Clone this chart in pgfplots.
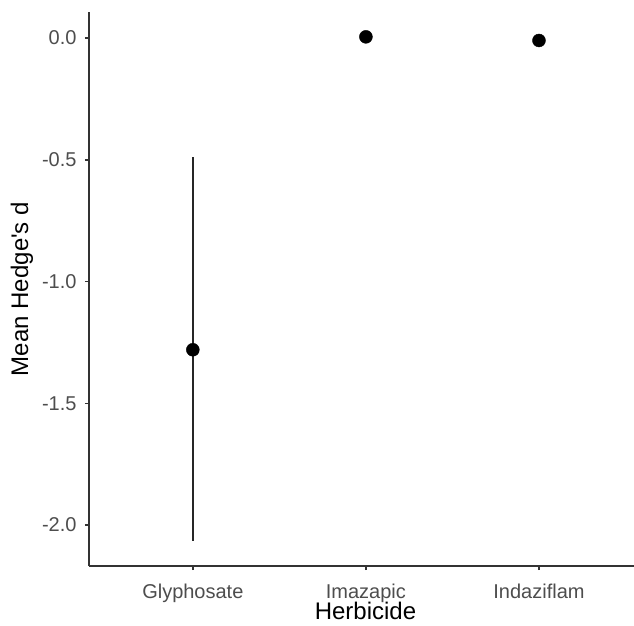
\documentclass[border=0pt]{standalone}
\usepackage{pgfplots}
\pgfplotsset{compat=1.18}
\usepackage{fontspec}
\setmainfont{Liberation Sans}
\definecolor{tickgray}{HTML}{4D4D4D}
\definecolor{axgray}{HTML}{333333}
\begin{document}
\begin{tikzpicture}
\useasboundingbox (-89pt,-59pt) rectangle (545pt,566pt);
\begin{axis}[
  scale only axis,
  width=545pt, height=554pt,
  xmin=0.4, xmax=3.549,
  ymin=-2.168, ymax=0.107,
  axis x line*=bottom, axis y line*=left,
  axis line style={axgray, line width=1.6pt, -},
  tick style={axgray, line width=1.6pt},
  tick align=outside,
  major tick length=4pt,
  xtick={1,2,3},
  xticklabels={Glyphosate,Imazapic,Indaziflam},
  ytick={-2,-1.5,-1,-0.5,0},
  yticklabels={-2.0,-1.5,-1.0,-0.5,0.0},
  ticklabel style={font=\fontsize{20}{23}\selectfont, text=tickgray},
  xticklabel style={yshift=-10pt},
  yticklabel style={xshift=-5pt},
  xlabel={Herbicide},
  ylabel={Mean Hedge\textquotesingle s d},
  label style={font=\fontsize{24}{28}\selectfont, text=black},
  xlabel style={at={(axis description cs:0.5,0)}, anchor=center, yshift=-45pt, xshift=4pt},
  ylabel style={at={(axis description cs:0,0.5)}, anchor=center, yshift=67pt},
  clip=false,
]
\addplot+[only marks, mark=*, black, mark size=6.5pt,
  mark options={fill=black, draw=black},
  error bars/.cd, y dir=both, y explicit,
  error bar style={line width=1.8pt, color=black!85}, error mark=none]
  table[x=x, y=y, y error plus=ep, y error minus=em] {
x y ep em
1 -1.28 0.79 0.787
2 0.005 0.0 0.0
3 -0.01 0.0 0.0
};
\end{axis}
\end{tikzpicture}
\end{document}
